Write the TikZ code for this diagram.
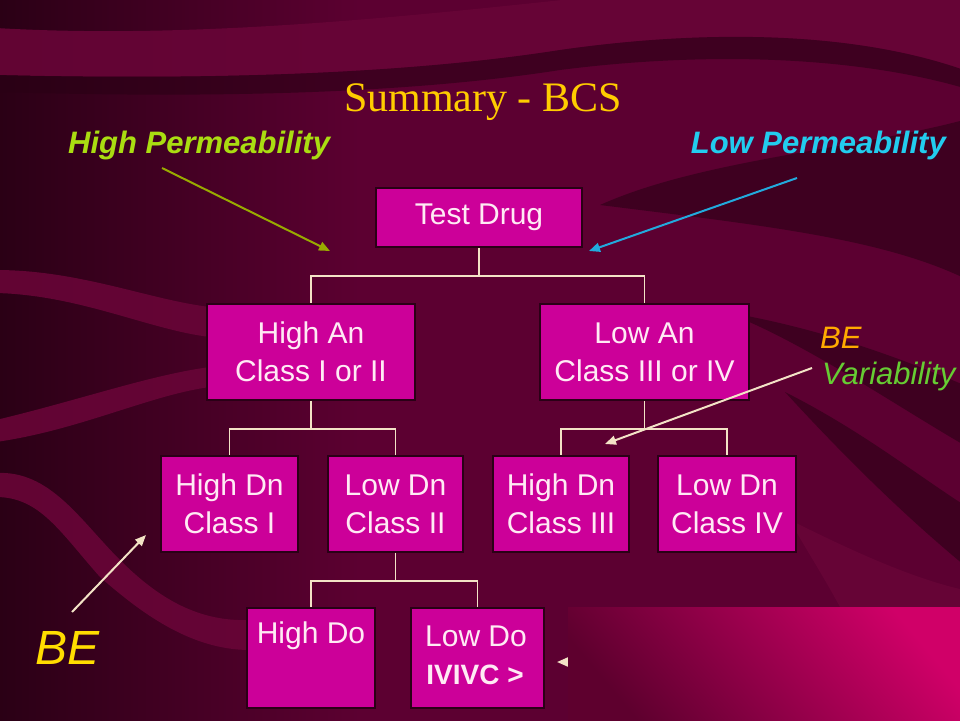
\documentclass[tikz,border=0pt]{standalone}
\usepackage{fontspec}
\setmainfont{Liberation Sans}
\newfontfamily\titlefont{Liberation Serif}
\usetikzlibrary{arrows.meta}
\definecolor{bgbase}{HTML}{5C0031}
\definecolor{bgdark}{HTML}{3A001E}
\definecolor{bgdeep}{HTML}{2A0015}
\definecolor{bandlight}{HTML}{680537}
\definecolor{boxmag}{HTML}{CC0099}
\definecolor{boxedge}{HTML}{2A0016}
\definecolor{boxtext}{HTML}{FFEAF4}
\definecolor{cream}{HTML}{F3E3C6}
\definecolor{titleyellow}{HTML}{FFCC00}
\definecolor{hpgreen}{HTML}{AADD11}
\definecolor{hparrow}{HTML}{99AA00}
\definecolor{lpcyan}{HTML}{22CCEE}
\definecolor{lparrow}{HTML}{22AADD}
\definecolor{beorange}{HTML}{FFAA00}
\definecolor{vargreen}{HTML}{66CC33}
\definecolor{beyellow}{HTML}{FFDD00}
\definecolor{pinklo}{HTML}{5E002E}
\definecolor{pinkhi}{HTML}{D00068}
\tikzset{
  chartbox/.style={draw=boxedge, line width=1.5, fill=boxmag, inner sep=0pt,
    text=boxtext, align=center, font=\fontsize{30}{38}\selectfont},
  boxlabel/.style={text=boxtext, align=center, inner sep=0pt, font=\fontsize{30}{38}\selectfont},
  tree/.style={draw=cream, line width=1.8},
  pointer/.style={line width=2, -{Triangle[length=11,width=9]}},
  band/.style={fill=bandlight, opacity=0.9},
  darkband/.style={fill=bgdeep, opacity=0.6}
}
\begin{document}
\begin{tikzpicture}[x=1pt,y=-1pt]
\useasboundingbox (0,0) rectangle (960,720);
% background
\fill[bgbase] (-4,-4) rectangle (964,724);
\shade[left color=bgdeep, right color=bgbase] (-4,-4) rectangle (360,724);
% top bands
\fill[band] (-4,28) .. controls (200,40) and (420,15) .. (600,-4) -- (964,-4) -- (964,70)
  .. controls (850,30) and (700,30) .. (560,50) .. controls (400,75) and (200,80) .. (-4,75) -- cycle;
\fill[darkband] (-4,75) .. controls (200,80) and (400,75) .. (560,50) .. controls (700,30) and (850,30) .. (964,70)
  -- (964,88) .. controls (850,55) and (700,52) .. (560,70) .. controls (400,95) and (200,98) .. (-4,92) -- cycle;
% left bands
\fill[band] (-4,270) .. controls (80,270) and (150,300) .. (210,307) -- (210,337)
  .. controls (150,330) and (80,295) .. (-4,293) -- cycle;
\fill[band] (-4,420) .. controls (80,400) and (150,375) .. (210,367) -- (210,387)
  .. controls (150,395) and (80,430) .. (-4,442) -- cycle;
\fill[band] (-4,473) .. controls (50,470) and (80,520) .. (120,560) .. controls (160,600) and (200,622) .. (250,620)
  -- (250,650) .. controls (190,650) and (140,612) .. (100,577) .. controls (60,532) and (40,497) .. (-4,497) -- cycle;
% right side stripes
\fill[darkband] (600,205) .. controls (700,160) and (850,150) .. (964,120) -- (964,278)
  .. controls (880,238) and (760,225) .. (600,205) -- cycle;
\fill[darkband] (725,312) .. controls (820,328) and (900,358) .. (964,385) -- (964,445)
  .. controls (890,402) and (800,340) .. (725,312) -- cycle;
\fill[darkband] (785,392) .. controls (860,430) and (910,470) .. (964,505) -- (964,565)
  .. controls (900,512) and (840,452) .. (785,392) -- cycle;
\fill[band] (790,520) .. controls (870,560) and (920,580) .. (964,590) -- (964,607) -- (840,607)
  .. controls (820,570) and (800,540) .. (790,520) -- cycle;

% title and side labels
\node[text=titleyellow, font=\titlefont\fontsize{42}{48}\selectfont] (title) at (483,102) {Summary - BCS};
\node[text=hpgreen, font=\bfseries\itshape\fontsize{31}{36}\selectfont, anchor=west, inner sep=0pt] (hplabel) at (68,145) {High Permeability};
\node[text=lpcyan, font=\bfseries\itshape\fontsize{31}{36}\selectfont, anchor=east, inner sep=0pt] (lplabel) at (946,145) {Low Permeability};
\node[text=beorange, font=\itshape\fontsize{31}{36}\selectfont, anchor=west, inner sep=0pt] (bevlabel) at (820,338) {BE};
\node[text=vargreen, font=\itshape\fontsize{31}{36}\selectfont, anchor=west, inner sep=0pt] (varlabel) at (822,376) {Variability};
\node[text=beyellow, font=\itshape\fontsize{48}{54}\selectfont, anchor=west, inner sep=0pt] (belabel) at (35,648) {BE};

% boxes
\node[chartbox, minimum width=206, minimum height=59] (test) at (479,217.5) {Test Drug};
\node[chartbox, minimum width=208, minimum height=96] (highan) at (311,352) {High An\\Class I or II};
\node[chartbox, minimum width=209, minimum height=96] (lowan) at (644.5,352) {Low An\\Class III or IV};
\node[chartbox, minimum width=137, minimum height=96] (hdn1) at (229.5,504) {High Dn\\Class I};
\node[chartbox, minimum width=135, minimum height=96] (ldn2) at (395.5,504) {Low Dn\\Class II};
\node[chartbox, minimum width=136, minimum height=96] (hdn3) at (561,504) {High Dn\\Class III};
\node[chartbox, minimum width=138, minimum height=96] (ldn4) at (727,504) {Low Dn\\Class IV};
\node[chartbox, minimum width=128, minimum height=100] (highdo) at (311,658) {};
\node[chartbox, minimum width=133, minimum height=100] (lowdo) at (477.5,658) {};
\node[boxlabel] (highdotext) at (311,636) {High Do};
\node[boxlabel] (lowdotext) at (476,636) {Low Do};
\node[boxlabel, font=\bfseries\fontsize{28}{34}\selectfont] (ivivc) at (475,675) {IVIVC >};

% tree connectors
\draw[tree] (test.south) -- ++(0,28) -| (highan.north);
\draw[tree] (test.south) ++(0,28) -| (lowan.north);
\draw[tree] (highan.south) -- ++(0,28) -| (hdn1.north);
\draw[tree] (highan.south) ++(0,28) -| (ldn2.north);
\draw[tree] (lowan.south) -- ++(0,28) -| (hdn3.north);
\draw[tree] (lowan.south) ++(0,28) -| (ldn4.north);
\draw[tree] (ldn2.south) -- ++(0,28) -| (highdo.north);
\draw[tree] (ldn2.south) ++(0,28) -| (lowdo.north);

% pointer arrows
\coordinate (hpstart) at (162,168);
\coordinate (hpend) at (330,251);
\draw[pointer, draw=hparrow, fill=hparrow] (hpstart) -- (hpend);
\coordinate (lpstart) at (797,178);
\coordinate (lpend) at (589,251);
\draw[pointer, draw=lparrow, fill=lparrow] (lpstart) -- (lpend);
\coordinate (bvstart) at (812,368);
\coordinate (bvend) at (605,444);
\draw[pointer, draw=cream, fill=cream] (bvstart) -- (bvend);
\coordinate (bestart) at (72,612);
\coordinate (beend) at (146,535);
\draw[pointer, draw=cream, fill=cream] (bestart) -- (beend);
\coordinate (ivstart) at (620,662);
\coordinate (ivend) at (557,662);
\draw[pointer, draw=cream, fill=cream] (ivstart) -- (ivend);

% covering pink panel
\shade[bottom color=pinklo, top color=pinkhi, shading angle=-50] (568,607) rectangle (964,724);
\end{tikzpicture}
\end{document}
